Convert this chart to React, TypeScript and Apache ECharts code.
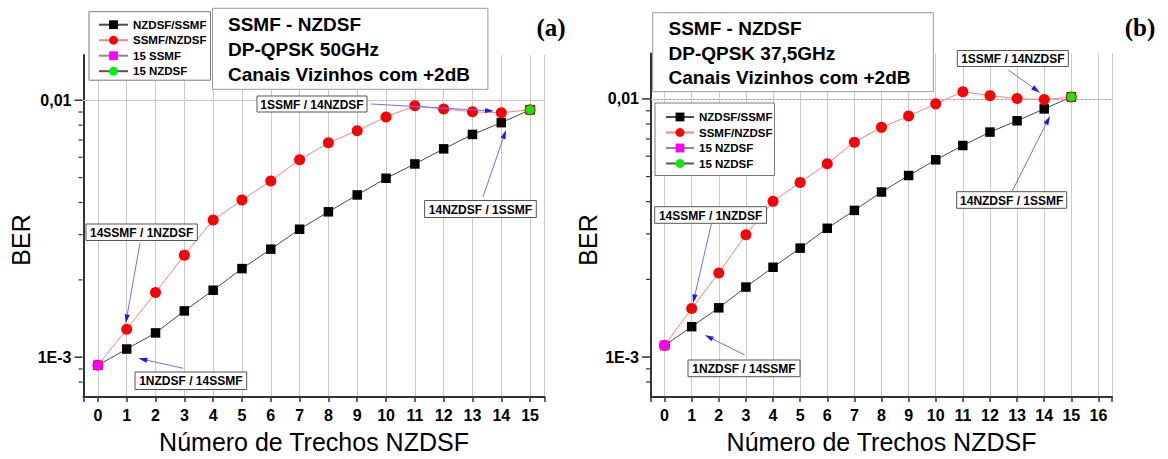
import React, { useEffect, useRef } from 'react';
import * as echarts from 'echarts';

const FONT = '"Liberation Sans", Arial, Helvetica, sans-serif';
const SERIF = '"Liberation Serif", "Times New Roman", serif';

// ---------- data: panel (a) DP-QPSK 50GHz ----------
const xA = [0, 1, 2, 3, 4, 5, 6, 7, 8, 9, 10, 11, 12, 13, 14, 15];
const aNzdsfSsmf = [9.3e-4, 1.076e-3, 1.243e-3, 1.514e-3, 1.822e-3, 2.212e-3, 2.633e-3, 3.148e-3, 3.68e-3, 4.28e-3, 4.97e-3, 5.65e-3, 6.47e-3, 7.36e-3, 8.18e-3, 9.18e-3];
const aSsmfNzdsf = [9.3e-4, 1.284e-3, 1.785e-3, 2.496e-3, 3.42e-3, 4.09e-3, 4.85e-3, 5.87e-3, 6.83e-3, 7.61e-3, 8.61e-3, 9.51e-3, 9.24e-3, 9.02e-3, 8.94e-3, 9.18e-3];
const a15SsmfX = [0];
const a15SsmfY = [9.3e-4];
const a15NzdsfX = [15];
const a15NzdsfY = [9.18e-3];

// ---------- data: panel (b) DP-QPSK 37,5GHz ----------
const xB = [0, 1, 2, 3, 4, 5, 6, 7, 8, 9, 10, 11, 12, 13, 14, 15];
const bNzdsfSsmf = [1.109e-3, 1.311e-3, 1.551e-3, 1.867e-3, 2.228e-3, 2.642e-3, 3.153e-3, 3.70e-3, 4.36e-3, 5.05e-3, 5.81e-3, 6.60e-3, 7.44e-3, 8.23e-3, 9.15e-3, 1.018e-2];
const bSsmfNzdsf = [1.109e-3, 1.541e-3, 2.118e-3, 2.98e-3, 4.01e-3, 4.75e-3, 5.61e-3, 6.80e-3, 7.76e-3, 8.58e-3, 9.57e-3, 1.067e-2, 1.03e-2, 1.003e-2, 9.94e-3, 1.018e-2];
const b15aX = [0];
const b15aY = [1.109e-3];
const b15bX = [15];
const b15bY = [1.018e-2];

// ---------- axes / labels ----------
const xMaxA = 15.5;
const xMaxB = 16.5;
const yMin = 7e-4;
const yMax = 0.015;
const yMajorValues = [0.001, 0.01];
const yMajorLabels = ['1E-3', '0,01'];
const yMinorValues = [8e-4, 9e-4, 2e-3, 3e-3, 4e-3, 5e-3, 6e-3, 7e-3, 8e-3, 9e-3];
const xTitle = 'Número de Trechos NZDSF';
const yTitle = 'BER';
const legendIdsA = ['a1', 'a2', 'a3', 'a4'];
const legendTextA = ['NZDSF/SSMF', 'SSMF/NZDSF', '15 SSMF', '15 NZDSF'];
const legendIdsB = ['b1', 'b2', 'b3', 'b4'];
const legendTextB = ['NZDSF/SSMF', 'SSMF/NZDSF', '15 NZDSF', '15 NZDSF'];
const infoA = ['SSMF - NZDSF', 'DP-QPSK 50GHz', 'Canais Vizinhos com +2dB'];
const infoB = ['SSMF - NZDSF', 'DP-QPSK 37,5GHz', 'Canais Vizinhos com +2dB'];
const annoTexts = ['1SSMF / 14NZDSF', '14NZDSF / 1SSMF', '14SSMF / 1NZDSF', '1NZDSF / 14SSMF'];

const labelMap: Record<string, string> = {};
legendIdsA.forEach((id, i) => (labelMap[id] = legendTextA[i]));
legendIdsB.forEach((id, i) => (labelMap[id] = legendTextB[i]));

const pairs = (xs: number[], ys: number[]) => xs.map((x, i) => [x, ys[i]]);

function decadeLabel(v: number) {
  const l = Math.log10(v);
  for (let i = 0; i < yMajorValues.length; i++) {
    if (Math.abs(l - Math.log10(yMajorValues[i])) < 1e-6) return yMajorLabels[i];
  }
  return '';
}

const gridMarkLine = {
  silent: true,
  symbol: 'none',
  z: 1,
  label: { show: false },
  emphasis: { disabled: true },
  lineStyle: { color: '#b0b0b0', width: 1, type: 'solid' },
  data: [
    ...yMajorValues.map((v) => ({ yAxis: v, lineStyle: { color: '#aaaaaa', width: 1, type: 'solid' } })),
    ...yMinorValues.map((v) => ({ yAxis: v, lineStyle: { color: '#d2d2d2', width: 1, type: [2, 2] } })),
  ],
};

function mkX(gi: number, max: number) {
  return {
    type: 'value',
    gridIndex: gi,
    min: -0.5,
    max,
    splitNumber: Math.round(max + 0.5),
    axisLine: { show: true, onZero: false, lineStyle: { color: '#333', width: 2 } },
    axisTick: { show: true, length: 5, lineStyle: { color: '#333', width: 1.5 } },
    axisLabel: {
      formatter: (v: number) => (Number.isInteger(v) ? String(v) : ''),
      fontSize: 16,
      fontWeight: 'bold',
      fontFamily: FONT,
      color: '#000',
      margin: 10,
    },
    splitLine: { show: true, lineStyle: { color: '#cbcbcb', width: 1 } },
    name: xTitle,
    nameLocation: 'middle',
    nameGap: 32,
    nameTextStyle: { fontSize: 25, fontFamily: FONT, color: '#000' },
  };
}

function mkY(gi: number) {
  return {
    type: 'log',
    logBase: 10,
    gridIndex: gi,
    min: yMin,
    max: yMax,
    axisLine: { show: true, onZero: false, lineStyle: { color: '#333', width: 2 } },
    axisTick: { show: false },
    splitLine: { show: false },
    axisLabel: {
      formatter: decadeLabel,
      fontSize: 16,
      fontWeight: 'bold',
      fontFamily: FONT,
      color: '#000',
      margin: 12,
      showMinLabel: false,
      showMaxLabel: false,
    },
  };
}

function mkSeries(gi: number, ids: string[], black: number[][], red: number[][], p1: number[][], p2: number[][]) {
  return [
    {
      type: 'line', name: ids[0], xAxisIndex: gi, yAxisIndex: gi, data: black,
      symbol: 'rect', symbolSize: 9.5, z: 2,
      itemStyle: { color: '#000' }, lineStyle: { color: '#4a4a4a', width: 1 },
      markLine: gridMarkLine,
    },
    {
      type: 'line', name: ids[1], xAxisIndex: gi, yAxisIndex: gi, data: red,
      symbol: 'circle', symbolSize: 11, z: 3,
      itemStyle: { color: '#ff0000' }, lineStyle: { color: '#ff8080', width: 1 },
    },
    {
      type: 'line', name: ids[2], xAxisIndex: gi, yAxisIndex: gi, data: p1,
      symbol: 'rect', symbolSize: 9, z: 4,
      itemStyle: { color: '#ff00ff' }, lineStyle: { color: '#8a8a8a', width: 1 },
    },
    {
      type: 'line', name: ids[3], xAxisIndex: gi, yAxisIndex: gi, data: p2,
      symbol: 'circle', symbolSize: 9, z: 5,
      itemStyle: { color: '#00ee00' }, lineStyle: { color: '#555', width: 1 },
    },
  ];
}

function mkLegend(ids: string[], left: number, top: number, padding: number[], itemWidth: number) {
  return {
    data: ids,
    left,
    top,
    orient: 'vertical',
    selectedMode: false,
    backgroundColor: '#fff',
    borderColor: '#7a7a7a',
    borderWidth: 1,
    borderRadius: 0,
    padding,
    itemWidth,
    itemHeight: 11,
    itemGap: 3.5,
    formatter: (n: string) => labelMap[n],
    textStyle: { fontSize: 11.5, fontWeight: 'bold', fontFamily: FONT, color: '#000', lineHeight: 12 },
  };
}

function buildOption() {
  return {
    animation: false,
    backgroundColor: '#fff',
    grid: [
      { left: 83.5, top: 55, width: 461, height: 346.7 },
      { left: 651, top: 53.5, width: 461, height: 347.5 },
    ],
    xAxis: [mkX(0, xMaxA), mkX(1, xMaxB)],
    yAxis: [mkY(0), mkY(1)],
    legend: [
      mkLegend(legendIdsA, 89, 11.7, [7, 4, 3, 9], 29),
      mkLegend(legendIdsB, 655, 103, [8, 2, 6, 10], 28),
    ],
    series: [
      ...mkSeries(0, legendIdsA, pairs(xA, aNzdsfSsmf), pairs(xA, aSsmfNzdsf), pairs(a15SsmfX, a15SsmfY), pairs(a15NzdsfX, a15NzdsfY)),
      ...mkSeries(1, legendIdsB, pairs(xB, bNzdsfSsmf), pairs(xB, bSsmfNzdsf), pairs(b15aX, b15aY), pairs(b15bX, b15bY)),
    ],
  };
}

// ---------- graphic helpers (layout positions only) ----------
function arrow(x1: number, y1: number, x2: number, y2: number) {
  const dx = x2 - x1, dy = y2 - y1;
  const len = Math.hypot(dx, dy);
  const ux = dx / len, uy = dy / len;
  const hl = 9, hw = 2.6;
  const bx = x2 - ux * hl, by = y2 - uy * hl;
  return [
    { type: 'line', z: 100, silent: true, shape: { x1, y1, x2: bx, y2: by }, style: { stroke: '#7070ff', lineWidth: 1 } },
    { type: 'polygon', z: 100, silent: true, shape: { points: [[x2, y2], [bx - uy * hw, by + ux * hw], [bx + uy * hw, by - ux * hw]] }, style: { fill: '#1a1aff' } },
  ];
}

function labelBox(text: string, x: number, y: number, w: number, h: number) {
  return [
    { type: 'rect', z: 101, silent: true, shape: { x, y, width: w, height: h }, style: { fill: '#fff', stroke: '#555', lineWidth: 1 } },
    { type: 'text', z: 102, silent: true, x: x + w / 2, y: y + h / 2 + 0.5, style: { text, align: 'center', verticalAlign: 'middle', font: `bold 12px ${FONT}`, fill: '#000' } },
  ];
}

function infoBox(lines: string[], x: number, y: number, w: number, h: number, tx: number, ty: number[]) {
  const els: any[] = [
    { type: 'rect', z: 100, silent: true, shape: { x, y, width: w, height: h }, style: { fill: '#fff', stroke: '#9a9a9a', lineWidth: 1 } },
  ];
  lines.forEach((t, i) => {
    els.push({ type: 'text', z: 101, silent: true, x: tx, y: ty[i], style: { text: t, align: 'left', verticalAlign: 'middle', font: `bold 19px ${FONT}`, fill: '#000' } });
  });
  return els;
}

function buildGraphics(chart: any) {
  const els: any[] = [];
  // y-axis ticks, positioned through the axis scale
  [0, 1].forEach((gi) => {
    yMajorValues.forEach((v) => {
      const p = chart.convertToPixel({ gridIndex: gi }, [-0.5, v]);
      els.push({ type: 'line', z: 50, silent: true, shape: { x1: p[0] - 9, y1: p[1], x2: p[0] - 1, y2: p[1] }, style: { stroke: '#333', lineWidth: 1.5 } });
    });
    yMinorValues.forEach((v) => {
      const p = chart.convertToPixel({ gridIndex: gi }, [-0.5, v]);
      els.push({ type: 'line', z: 50, silent: true, shape: { x1: p[0] - 5, y1: p[1], x2: p[0] - 1, y2: p[1] }, style: { stroke: '#333', lineWidth: 1.2 } });
    });
  });

  // info boxes
  els.push(...infoBox(infoA, 212.5, 8.3, 275.4, 81, 228, [24.5, 49.5, 74]));
  els.push(...infoBox(infoB, 652.7, 12.7, 280.6, 79, 668.5, [28.5, 53, 77.5]));

  // panel tags
  els.push({ type: 'text', z: 100, silent: true, x: 551, y: 27, style: { text: '(a)', align: 'center', verticalAlign: 'middle', font: `bold 25px ${SERIF}`, fill: '#000' } });
  els.push({ type: 'text', z: 100, silent: true, x: 1140, y: 27, style: { text: '(b)', align: 'center', verticalAlign: 'middle', font: `bold 25px ${SERIF}`, fill: '#000' } });

  // y titles
  els.push({ type: 'text', z: 100, silent: true, x: 21, y: 240, rotation: Math.PI / 2, style: { text: yTitle, align: 'center', verticalAlign: 'middle', font: `25px ${FONT}`, fill: '#000' } });
  els.push({ type: 'text', z: 100, silent: true, x: 588, y: 240, rotation: Math.PI / 2, style: { text: yTitle, align: 'center', verticalAlign: 'middle', font: `25px ${FONT}`, fill: '#000' } });

  // annotations panel (a)
  els.push(...arrow(371, 104, 494, 111));
  els.push(...labelBox(annoTexts[0], 257, 96, 110, 16));
  els.push(...arrow(483, 197, 506, 130));
  els.push(...labelBox(annoTexts[1], 424.6, 200.5, 111.7, 17));
  els.push(...arrow(140, 243, 125.7, 323.3));
  els.push(...labelBox(annoTexts[2], 86, 224, 111.3, 16.5));
  els.push(...arrow(183.3, 368.3, 138.3, 358.3));
  els.push(...labelBox(annoTexts[3], 135, 372, 111.7, 17.5));

  // annotations panel (b)
  els.push(...arrow(1008.3, 70, 1040, 92.7));
  els.push(...labelBox(annoTexts[0], 957.3, 50.5, 111, 16));
  els.push(...arrow(1011.7, 192, 1050, 116));
  els.push(...labelBox(annoTexts[1], 956.7, 191.7, 110, 16.6));
  els.push(...arrow(711.3, 224, 693, 303.3));
  els.push(...labelBox(annoTexts[2], 654.7, 206.7, 111.8, 16.6));
  els.push(...arrow(744.7, 355, 704.7, 335));
  els.push(...labelBox(annoTexts[3], 688, 360, 112, 16.7));

  return els;
}

export default function App() {
  const ref = useRef<HTMLDivElement>(null);
  useEffect(() => {
    if (!ref.current) return;
    const chart = echarts.init(ref.current, null, { renderer: 'svg' });
    chart.setOption(buildOption() as any);
    chart.setOption({ graphic: { elements: buildGraphics(chart) } } as any);
    return () => chart.dispose();
  }, []);
  return (
    <div
      ref={ref}
      style={{ position: 'absolute', left: 0, top: 0, width: 1168, height: 459, background: '#fff' }}
    />
  );
}
